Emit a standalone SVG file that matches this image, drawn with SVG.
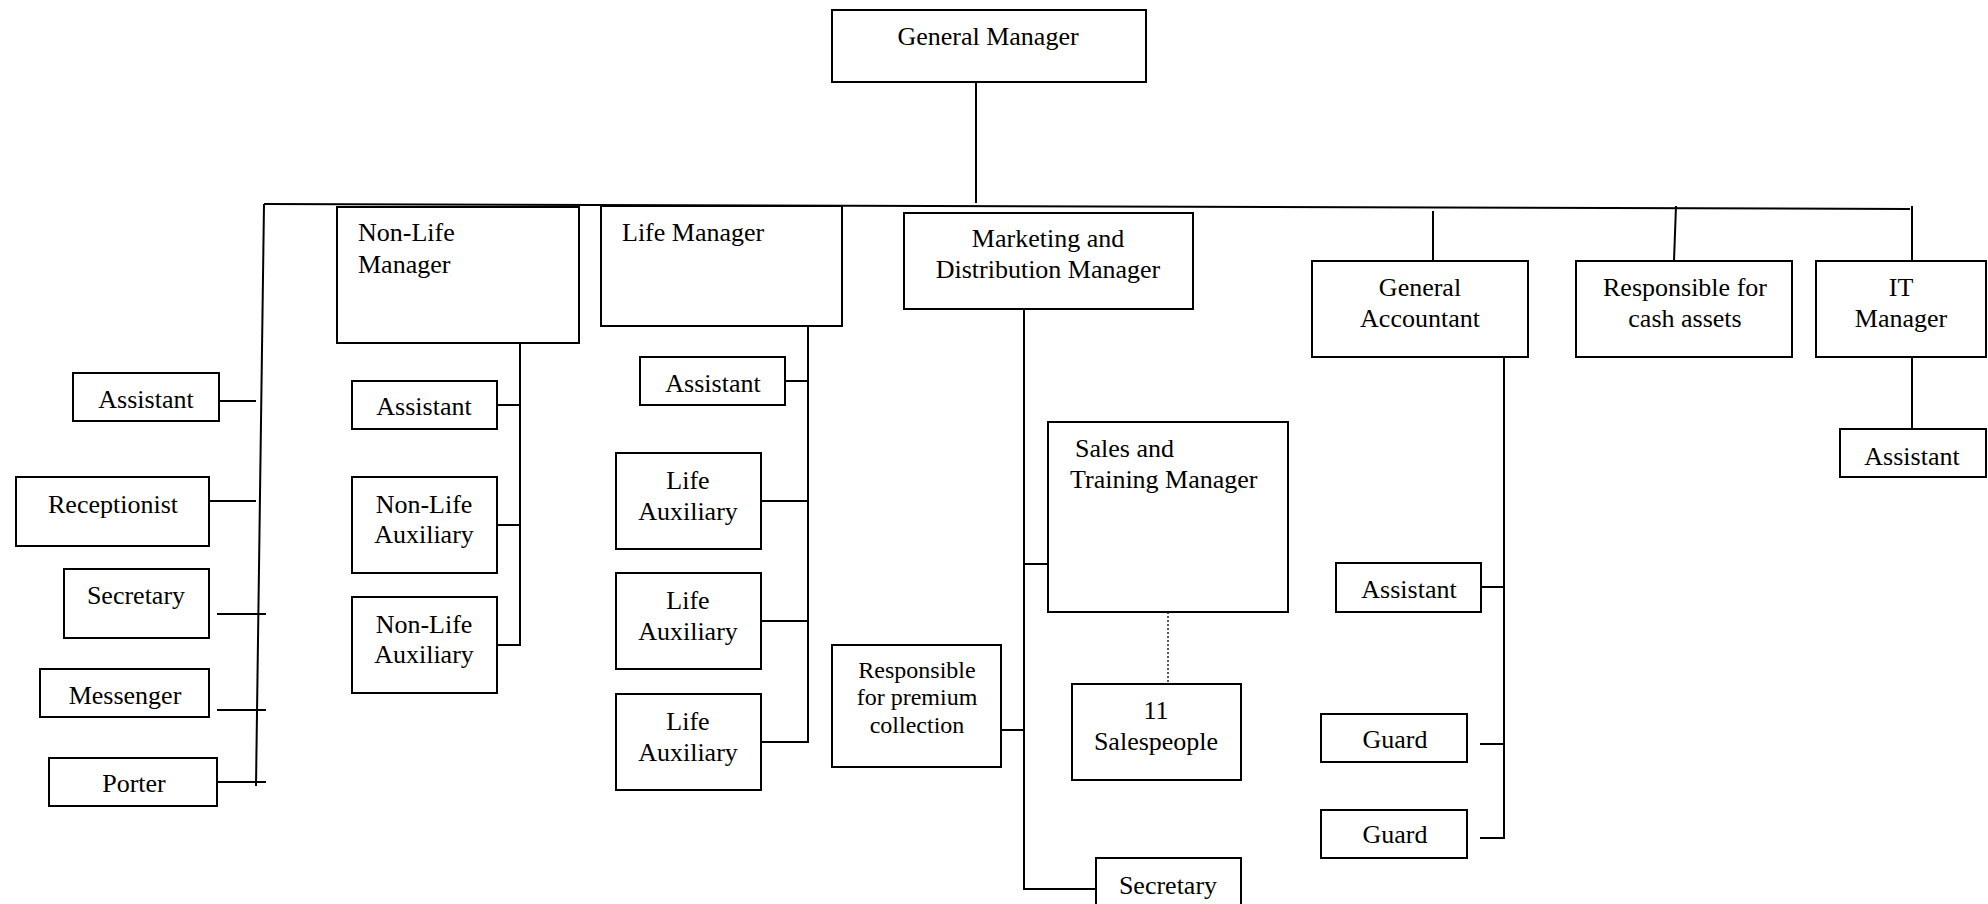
<svg xmlns="http://www.w3.org/2000/svg" width="1988" height="904" viewBox="0 0 1988 904">
<style>
.b{fill:#fff;stroke:#000;stroke-width:2}
.l{fill:none;stroke:#000;stroke-width:2}
.d{fill:none;stroke:#000;stroke-width:1.3;stroke-dasharray:2 2}
text{font-family:"Liberation Serif","Times New Roman",serif;font-size:26px;fill:#000}
.c{text-anchor:middle}
.s{font-size:24px}
</style>
<rect width="1988" height="904" fill="#fff"/>
<g id="connectors">
<polyline class="l" points="976,82 976,203"/>
<polyline class="l" points="264,204 1910,209"/>
<polyline class="l" points="264,204 256,786"/>
<line class="l" x1="219" y1="401" x2="256" y2="401"/>
<line class="l" x1="208" y1="501" x2="256" y2="501"/>
<line class="l" x1="217" y1="614" x2="266" y2="614"/>
<line class="l" x1="217" y1="710" x2="266" y2="710"/>
<line class="l" x1="217" y1="782" x2="266" y2="782"/>
<polyline class="l" points="520,343 520,645 497,645"/>
<line class="l" x1="497" y1="405" x2="520" y2="405"/>
<line class="l" x1="497" y1="525" x2="520" y2="525"/>
<polyline class="l" points="808,326 808,742 761,742"/>
<line class="l" x1="785" y1="381" x2="808" y2="381"/>
<line class="l" x1="761" y1="501" x2="808" y2="501"/>
<line class="l" x1="761" y1="621" x2="808" y2="621"/>
<polyline class="l" points="1024,309 1024,889 1096,889"/>
<line class="l" x1="1024" y1="564" x2="1048" y2="564"/>
<line class="l" x1="1001" y1="730" x2="1024" y2="730"/>
<line class="d" x1="1168" y1="612" x2="1168" y2="682"/>
<line class="l" x1="1433" y1="211" x2="1433" y2="261"/>
<line class="l" x1="1676" y1="206" x2="1674" y2="261"/>
<line class="l" x1="1912" y1="206" x2="1912" y2="261"/>
<line class="l" x1="1912" y1="357" x2="1912" y2="429"/>
<polyline class="l" points="1504,357 1504,838 1480,838"/>
<line class="l" x1="1481" y1="587" x2="1504" y2="587"/>
<line class="l" x1="1480" y1="744" x2="1504" y2="744"/>
</g>
<g id="general-manager"><rect class="b" x="832" y="10" width="314" height="72"/><text class="c" x="988" y="45">General Manager</text></g>
<g id="admin-assistant"><rect class="b" x="73" y="373" width="146" height="48"/><text class="c" x="146" y="408">Assistant</text></g>
<g id="receptionist"><rect class="b" x="16" y="477" width="193" height="69"/><text class="c" x="113" y="513">Receptionist</text></g>
<g id="admin-secretary"><rect class="b" x="64" y="569" width="145" height="69"/><text class="c" x="136" y="604">Secretary</text></g>
<g id="messenger"><rect class="b" x="40" y="669" width="169" height="48"/><text class="c" x="125" y="704">Messenger</text></g>
<g id="porter"><rect class="b" x="49" y="758" width="168" height="48"/><text class="c" x="134" y="792">Porter</text></g>
<g id="nonlife-manager"><rect class="b" x="337" y="207" width="242" height="136"/><text x="358" y="241">Non-Life</text><text x="358" y="273">Manager</text></g>
<g id="nonlife-assistant"><rect class="b" x="352" y="381" width="145" height="48"/><text class="c" x="424" y="415">Assistant</text></g>
<g id="nonlife-aux1"><rect class="b" x="352" y="477" width="145" height="96"/><text class="c" x="424" y="513">Non-Life</text><text class="c" x="424" y="543">Auxiliary</text></g>
<g id="nonlife-aux2"><rect class="b" x="352" y="597" width="145" height="96"/><text class="c" x="424" y="633">Non-Life</text><text class="c" x="424" y="663">Auxiliary</text></g>
<g id="life-manager"><rect class="b" x="601" y="206" width="241" height="120"/><text x="622" y="241">Life Manager</text></g>
<g id="life-assistant"><rect class="b" x="640" y="357" width="145" height="48"/><text class="c" x="713" y="392">Assistant</text></g>
<g id="life-aux1"><rect class="b" x="616" y="453" width="145" height="96"/><text class="c" x="688" y="489">Life</text><text class="c" x="688" y="520">Auxiliary</text></g>
<g id="life-aux2"><rect class="b" x="616" y="573" width="145" height="96"/><text class="c" x="688" y="609">Life</text><text class="c" x="688" y="640">Auxiliary</text></g>
<g id="life-aux3"><rect class="b" x="616" y="694" width="145" height="96"/><text class="c" x="688" y="730">Life</text><text class="c" x="688" y="761">Auxiliary</text></g>
<g id="marketing-manager"><rect class="b" x="904" y="213" width="289" height="96"/><text class="c" x="1048" y="247">Marketing and</text><text class="c" x="1048" y="278">Distribution Manager</text></g>
<g id="sales-training-manager"><rect class="b" x="1048" y="422" width="240" height="190"/><text x="1075" y="457">Sales and</text><text x="1070" y="488">Training Manager</text></g>
<g id="salespeople"><rect class="b" x="1072" y="684" width="169" height="96"/><text class="c" x="1156" y="719">11</text><text class="c" x="1156" y="750">Salespeople</text></g>
<g id="premium-collection"><rect class="b" x="832" y="645" width="169" height="122"/><text class="c s" x="917" y="678">Responsible</text><text class="c s" x="917" y="705">for premium</text><text class="c s" x="917" y="733">collection</text></g>
<g id="marketing-secretary"><rect class="b" x="1096" y="858" width="145" height="60"/><text class="c" x="1168" y="894">Secretary</text></g>
<g id="general-accountant"><rect class="b" x="1312" y="261" width="216" height="96"/><text class="c" x="1420" y="296">General</text><text class="c" x="1420" y="327">Accountant</text></g>
<g id="cash-assets"><rect class="b" x="1576" y="261" width="216" height="96"/><text class="c" x="1685" y="296">Responsible for</text><text class="c" x="1685" y="327">cash assets</text></g>
<g id="it-manager"><rect class="b" x="1816" y="261" width="170" height="96"/><text class="c" x="1901" y="296">IT</text><text class="c" x="1901" y="327">Manager</text></g>
<g id="it-assistant"><rect class="b" x="1840" y="429" width="146" height="48"/><text class="c" x="1912" y="465">Assistant</text></g>
<g id="ga-assistant"><rect class="b" x="1336" y="563" width="145" height="49"/><text class="c" x="1409" y="598">Assistant</text></g>
<g id="guard1"><rect class="b" x="1321" y="714" width="146" height="48"/><text class="c" x="1395" y="748">Guard</text></g>
<g id="guard2"><rect class="b" x="1321" y="810" width="146" height="48"/><text class="c" x="1395" y="843">Guard</text></g>
</svg>
